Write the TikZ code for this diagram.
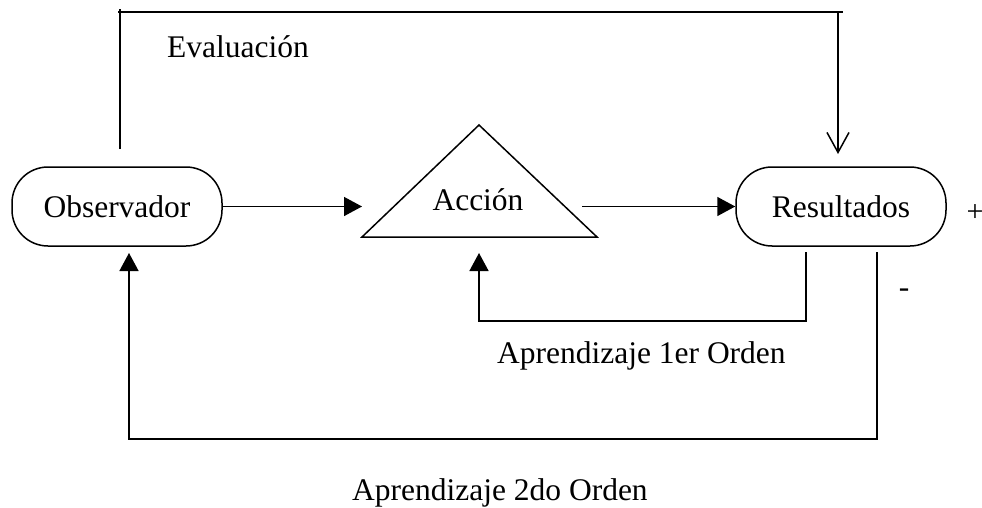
\documentclass[tikz,border=0pt]{standalone}
\usepackage{fontspec}
\setmainfont{Liberation Serif}
\usetikzlibrary{arrows.meta}
\tikzset{
  pill/.style={draw,rounded corners=36pt,minimum width=210pt,minimum height=79pt,inner sep=0pt},
  tip/.style={-{Triangle[length=18pt,width=19pt]}},
  vtip/.style={-{Straight Barb[length=20pt,width=22pt]}},
}
\begin{document}
\begin{tikzpicture}[x=1pt,y=-1pt,line width=1.5pt,font=\fontsize{31.5}{36}\selectfont]
  \useasboundingbox (0,0) rectangle (982,508);
  % boxes
  \node[pill] (obs) at (117,206.5) {Observador};
  \node[pill] (res) at (841,206.5) {Resultados};
  \coordinate (accL) at (362,237);
  \coordinate (accR) at (597,237);
  \coordinate (accT) at (479,125);
  \draw (accL) -- (accR) -- (accT) -- cycle;
  \node[anchor=base] (acc) at (478,210) {Acción};
  % forward arrows
  \draw[tip] (obs.east) -- (obs.east -| accL);
  \coordinate (accO) at (582,206.5);
  \draw[tip] (accO) -- (res.west);
  % evaluation
  \coordinate (evalA) at (120,149);
  \coordinate (evalB) at (838,154);
  \coordinate (topL) at (118,12);
  \coordinate (topR) at (843,12);
  \draw (evalA) -- (120,9);
  \draw (topL) -- (topR);
  \draw[vtip] (evalB |- topL) -- (evalB);
  \node[anchor=base west] (evaltxt) at (163,58) {Evaluación};
  % learning loops
  \coordinate (l1s) at (806,252);
  \coordinate (l1e) at (479,253);
  \draw[tip] (l1s) -- ++(0,69) -| (l1e);
  \coordinate (l2s) at (877,252);
  \coordinate (l2e) at (129,253);
  \draw[tip] (l2s) -- ++(0,187) -| (l2e);
  \node[anchor=base west] (ord1) at (493,363) {Aprendizaje 1er Orden};
  \node[anchor=base west] (ord2) at (348,500) {Aprendizaje 2do Orden};
  \node[font=\fontsize{30}{34}\selectfont] (plus) at (975,213) {+};
  \node[anchor=base] (minus) at (904,297) {-};
\end{tikzpicture}
\end{document}
